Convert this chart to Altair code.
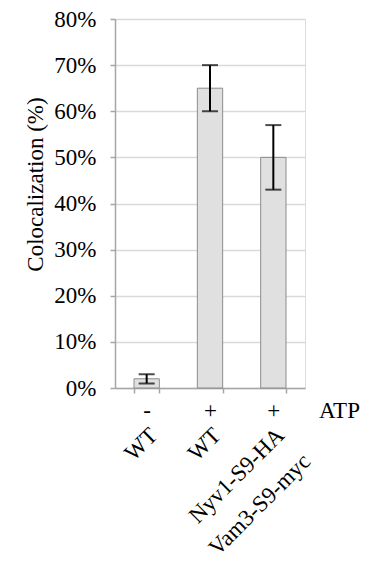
import altair as alt
import pandas as pd

# Colocalization of the two SNARE-tagged strains, with and without ATP
strains = ["WT", "WT", "Nyv1-S9-HA\nVam3-S9-myc"]
atp = ["-", "+", "+"]
coloc = [2, 65, 50]      # percent
err = [1, 5, 7]          # +/- percent
keys = ["a", "b", "c"]

df = pd.DataFrame({
    "key": keys,
    "strain": strains,
    "atp": atp,
    "coloc": coloc,
    "lo": [c - e for c, e in zip(coloc, err)],
    "hi": [c + e for c, e in zip(coloc, err)],
})

FONT = "Liberation Serif"
FS = 23
W, H = 190, 369
GRID = "#d9d9d9"
AXIS = "#a6a6a6"

atp_lookup = "{" + ",".join(f"'{k}':'{a}'" for k, a in zip(keys, atp)) + "}"

x_enc = alt.X(
    "key:N",
    sort=keys,
    scale=alt.Scale(domain=keys, paddingInner=0.6, paddingOuter=0.3),
    axis=alt.Axis(
        title="ATP",
        titleFont=FONT, titleFontSize=FS, titleFontWeight="normal", titleColor="black",
        titleAngle=0, titleAlign="center", titleBaseline="alphabetic",
        titleX=224, titleY=29,
        labelExpr=f"{atp_lookup}[datum.value]",
        labelAngle=0, labelFont=FONT, labelFontSize=FS, labelColor="black",
        labelBaseline="alphabetic", labelPadding=24,
        tickBand="extent", tickSize=5, tickColor=AXIS, tickWidth=1.5,
        domainColor=AXIS, domainWidth=1.5,
        grid=False,
    ),
)

y_scale = alt.Scale(domain=[0, 80], nice=False)

bars = alt.Chart(df).mark_bar(
    fill="#e0e0e0", stroke="#8c8c8c", strokeWidth=1
).encode(
    x=x_enc,
    y=alt.Y(
        "coloc:Q",
        scale=y_scale,
        axis=alt.Axis(
            title="Colocalization (%)",
            titleFont=FONT, titleFontSize=FS, titleFontWeight="normal", titleColor="black",
            titlePadding=6, titleY=165,
            values=list(range(0, 81, 10)),
            labelExpr="datum.value + '%'",
            labelFont=FONT, labelFontSize=FS, labelColor="black", labelPadding=14,
            tickSize=5, tickColor=AXIS, tickWidth=1.5,
            domainColor=AXIS, domainWidth=1.5,
            grid=True, gridColor=GRID, gridWidth=1.5,
        ),
    ),
)

whisker = alt.Chart(df).mark_rule(color="black", strokeWidth=2).encode(
    x=alt.X("key:N", sort=keys),
    y=alt.Y("lo:Q", scale=y_scale),
    y2="hi:Q",
)

cap_lo = alt.Chart(df).mark_tick(
    color="black", orient="horizontal", size=16, thickness=2
).encode(x=alt.X("key:N", sort=keys), y=alt.Y("lo:Q", scale=y_scale))

cap_hi = alt.Chart(df).mark_tick(
    color="black", orient="horizontal", size=16, thickness=2
).encode(x=alt.X("key:N", sort=keys), y=alt.Y("hi:Q", scale=y_scale))

names = alt.Chart(df).mark_text(
    angle=315, align="right", baseline="top", lineBreak="\n",
    font=FONT, fontSize=FS, lineHeight=37, color="black",
).encode(
    x=alt.X("key:N", sort=keys, bandPosition=0.48),
    y=alt.value(H + 36),
    text="strain:N",
)

chart = alt.layer(bars, whisker, cap_lo, cap_hi, names).properties(
    width=W,
    height=H,
    autosize=alt.AutoSizeParams(type="none"),
    padding={"left": 115, "top": 19, "right": 76, "bottom": 181},
).configure_view(stroke=None).configure(background="white")

chart.save("out.html", embed_options={"renderer": "svg", "actions": False})
